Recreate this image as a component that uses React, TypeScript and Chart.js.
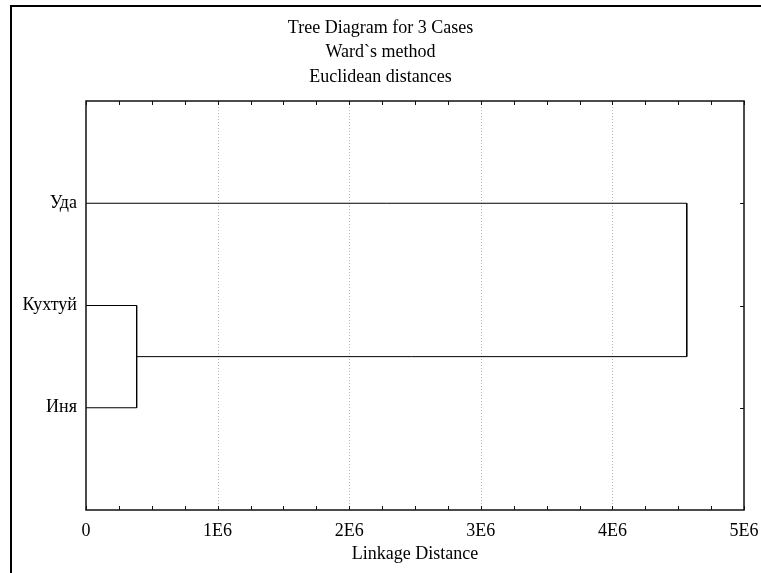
import React, { useEffect, useRef } from 'react';
import { Chart, registerables } from 'chart.js';

Chart.register(...registerables);

const titleLines = ['Tree Diagram for 3 Cases', 'Ward`s method', 'Euclidean distances'];
const leafLabels = ['Уда', 'Кухтуй', 'Иня'];
// Agglomeration steps: clusters joined (leaf index, or leaf count + step index) and the linkage distance
const mergeLeft = [1, 0];
const mergeRight = [2, 3];
const mergeDistance = [385000, 4565000];
const xTickValues = [0, 1e6, 2e6, 3e6, 4e6, 5e6];
const xTickLabels = ['0', '1E6', '2E6', '3E6', '4E6', '5E6'];
const xAxisTitle = 'Linkage Distance';

const FONT = 'Liberation Serif, Times New Roman, serif';
const W = 761;
const H = 573;

type Pt = { x: number; y: number };

function buildLinks(): Pt[][] {
  const nodes: Pt[] = leafLabels.map((_, i) => ({ x: 0, y: i + 1 }));
  const links: Pt[][] = [];
  mergeDistance.forEach((h, k) => {
    const a = nodes[mergeLeft[k]];
    const b = nodes[mergeRight[k]];
    links.push([
      { x: a.x, y: a.y },
      { x: h, y: a.y },
      { x: h, y: b.y },
      { x: b.x, y: b.y },
    ]);
    nodes.push({ x: h, y: (a.y + b.y) / 2 });
  });
  return links;
}

const framePlugin = {
  id: 'dendroFrame',
  beforeDatasetsDraw(chart: any) {
    const { ctx, chartArea: a, scales } = chart;
    const x = scales.x;
    ctx.save();
    ctx.strokeStyle = '#b9b9b9';
    ctx.lineWidth = 1;
    ctx.setLineDash([1, 2]);
    xTickValues.forEach((v) => {
      if (v <= x.min || v >= x.max) return;
      const px = Math.round(x.getPixelForValue(v)) + 0.5;
      ctx.beginPath();
      ctx.moveTo(px, a.top);
      ctx.lineTo(px, a.bottom);
      ctx.stroke();
    });
    ctx.restore();
  },
  afterDatasetsDraw(chart: any) {
    const { ctx, chartArea: a, scales } = chart;
    const x = scales.x;
    const y = scales.y;
    ctx.save();
    ctx.strokeStyle = '#111';
    ctx.lineWidth = 1;
    const tick = 4;
    // inward tick marks on the top and bottom edges, with quarter subdivisions
    const xs: number[] = [];
    for (let i = 0; i < xTickValues.length; i++) {
      xs.push(xTickValues[i]);
      if (i < xTickValues.length - 1) {
        const step = (xTickValues[i + 1] - xTickValues[i]) / 4;
        for (let j = 1; j < 4; j++) xs.push(xTickValues[i] + j * step);
      }
    }
    ctx.beginPath();
    xs.forEach((v) => {
      const px = Math.round(x.getPixelForValue(v)) + 0.5;
      ctx.moveTo(px, a.top);
      ctx.lineTo(px, a.top + tick);
      ctx.moveTo(px, a.bottom);
      ctx.lineTo(px, a.bottom - tick);
    });
    // inward ticks on the right edge at each case
    leafLabels.forEach((_, i) => {
      const py = Math.round(y.getPixelForValue(i + 1)) + 0.5;
      ctx.moveTo(a.right, py);
      ctx.lineTo(a.right - tick, py);
    });
    ctx.stroke();
    ctx.lineWidth = 1.5;
    ctx.strokeRect(a.left, a.top, a.right - a.left, a.bottom - a.top);
    ctx.restore();
  },
};

export default function App() {
  const canvasRef = useRef<HTMLCanvasElement>(null);

  useEffect(() => {
    const canvas = canvasRef.current;
    if (!canvas) return;
    const links = buildLinks();
    const chart = new Chart(canvas, {
      type: 'scatter',
      data: {
        datasets: links.map((pts) => ({
          data: pts,
          showLine: true,
          borderColor: '#000',
          borderWidth: 1,
          pointRadius: 0,
          pointHoverRadius: 0,
          tension: 0,
          fill: false,
        })),
      },
      options: {
        responsive: false,
        animation: false,
        events: [],
        layout: { padding: { top: 0, left: 17, right: 17, bottom: 0 } },
        plugins: {
          legend: { display: false },
          tooltip: { enabled: false },
          title: {
            display: true,
            text: titleLines,
            color: '#000',
            font: { family: FONT, size: 18, weight: 'normal', lineHeight: 24.5 / 18 },
            padding: { top: 16, bottom: 11.5 },
          },
        },
        scales: {
          x: {
            type: 'linear',
            min: xTickValues[0],
            max: xTickValues[xTickValues.length - 1],
            afterBuildTicks: (scale: any) => {
              scale.ticks = xTickValues.map((v) => ({ value: v }));
            },
            afterFit: (scale: any) => {
              scale.height = 63;
              scale.paddingLeft = 0;
              scale.paddingRight = 0;
            },
            ticks: {
              autoSkip: false,
              maxRotation: 0,
              padding: 10,
              color: '#000',
              font: { family: FONT, size: 18 },
              callback: (_v: any, i: number) => xTickLabels[i],
            },
            grid: { display: false, drawTicks: false },
            border: { display: false },
            title: {
              display: true,
              text: xAxisTitle,
              color: '#000',
              font: { family: FONT, size: 18 },
              padding: { top: 0, bottom: 8 },
            },
          },
          y: {
            type: 'linear',
            min: 0,
            max: leafLabels.length + 1,
            reverse: true,
            afterBuildTicks: (scale: any) => {
              scale.ticks = leafLabels.map((_, i) => ({ value: i + 1 }));
            },
            afterFit: (scale: any) => {
              scale.width = 69;
              scale.paddingTop = 0;
              scale.paddingBottom = 0;
            },
            ticks: {
              autoSkip: false,
              padding: 9,
              color: '#000',
              font: { family: FONT, size: 18 },
              callback: (v: any) => leafLabels[Math.round(Number(v)) - 1] ?? '',
            },
            grid: { display: false, drawTicks: false },
            border: { display: false },
          },
        },
      },
      plugins: [framePlugin],
    } as any);
    return () => chart.destroy();
  }, []);

  return (
    <div style={{ position: 'absolute', left: 0, top: 0, width: W, height: H, background: '#fff', overflow: 'hidden' }}>
      <div
        style={{
          position: 'absolute',
          left: 10,
          top: 5,
          width: W,
          height: H,
          borderTop: '2px solid #000',
          borderLeft: '2px solid #000',
        }}
      />
      <canvas ref={canvasRef} width={W} height={H} style={{ position: 'absolute', left: 0, top: 0, display: 'block' }} />
    </div>
  );
}
